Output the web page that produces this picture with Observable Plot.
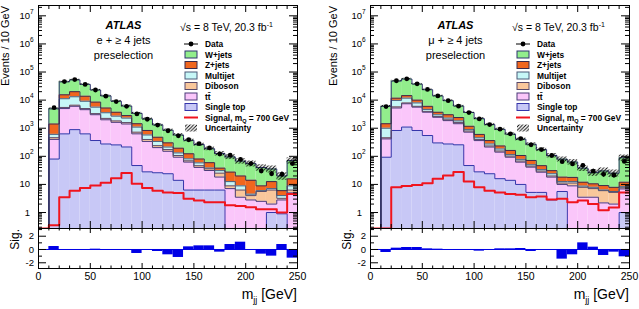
<!DOCTYPE html>
<html><head><meta charset="utf-8">
<script src="https://cdn.jsdelivr.net/npm/d3@7"></script>
<script src="https://cdn.jsdelivr.net/npm/@observablehq/plot@0.6"></script>
<style>
html,body{margin:0;padding:0;background:#fff;}
#wrap{position:relative;width:639px;height:309px;overflow:hidden;background:#fff;}
#wrap svg{position:absolute;}
</style></head><body>
<svg width="0" height="0" style="position:absolute">
<defs><pattern id="hatch" patternUnits="userSpaceOnUse" width="3.5" height="3.5"><path d="M-1,1 l2,-2 M0,3.5 l3.5,-3.5 M2.5,4.5 l2,-2" stroke="#000" stroke-width="0.9"/></pattern></defs></svg>
<div id="wrap"></div>
<script>
// ---------------- data ----------------
const binLow = [0,10,20,30,40,50,60,70,80,90,100,110,120,130,140,150,160,170,180,190,200,210,220,230,240];
const binW = 10;
const xTicks = [0,50,100,150,200,250];
const yTickExps = [0,1,2,3,4,5,6,7];
const sigTicks = [-2,0,2];
const layerNames = ["Single top","tt\u0304","Diboson","Multijet","Z+jets","W+jets"];
const layerFill = ["#c8c8f6","#fac6fa","#f9c79b","#c6f7f7","#f0661e","#92ee8c"];
const layerStroke = ["#3434aa","#4a3a78","#5a4a6a","#4a5a78","#3a2a4a","#2e3470"];

// electron channel
const eSingleTop = [0,80,630,890,630,365,275,255,215,47,28,26,24,14,6.3,6.3,6.3,6.3,0,0,0,0,1.0,0.9,0];
const eTtbar     = [0,320,4380,5140,3940,2660,1720,1365,1200,584,311,178,127,79,56,34,25,12,7.1,3.5,2.8,2.5,1.0,1.9,5.0];
const eDiboson   = [0,60,480,580,440,290,245,200,172,93,59,36,23,14,7,6.1,4.6,6.9,1.8,2.8,1.2,3.1,4.3,0.4,1.3];
const eMultijet  = [0,145,5720,6570,4110,2310,1310,870,706,372,177,99,40,25,12,12,2.5,5.8,3.7,2.6,0.5,0.4,0.8,0.8,2.6];
const eZjets     = [0,810,4270,6770,4680,2890,1700,1020,527,349,257,140,88,63,42,22,21,7.1,14.9,11.1,9.6,2.9,5.5,2.0,6.9];
const eWjets     = [0,3500,29200,32500,22500,14400,8880,5400,3350,1940,1306,839,549,380,249,182,127,88,68,47.6,40.9,30.9,22.9,14,55];
const eData      = [null,5400,45700,53700,36300,22900,13800,8910,6030,3240,2090,1290,813,537,389,282,200,120,110,78,55,30,24,23,55];
const eSignal    = [0,0.35,3.5,6.0,7.4,9.1,11.5,16.6,25.7,10.5,7.4,6.0,5.2,5.0,3.1,2.7,2.3,2.3,1.8,1.7,1.55,1.3,1.3,1.0,4.6];
const eSig       = [0,0.45,0,0,0,0.05,-0.15,-0.15,-0.15,-0.6,-0.1,-0.3,-0.8,-1.2,0.4,0.55,0.55,-0.4,0.75,1.1,0,-0.7,-1.0,0.75,-1.3];
const eUnc       = [0,0.08,0.06,0.06,0.06,0.06,0.07,0.07,0.08,0.08,0.09,0.10,0.10,0.11,0.12,0.13,0.15,0.18,0.20,0.22,0.24,0.26,0.28,0.30,0.25];

// muon channel
const muSingleTop = [0,93,830,1100,830,550,300,275,257,47,28,24,16,14,10,5.2,5.2,2.8,5.6,0,0,0,0,0,1.0];
const muTtbar     = [0,324,4420,6320,4790,3165,2150,1590,1190,677,335,190,125,79,52,36,22,15.4,4.4,8.9,3.5,3.5,2.2,2.0,5.9];
const muDiboson   = [0,40,506,530,403,266,175,133,140,70,35,20,14,9,6,3.7,2.7,1.8,1.2,2.3,4.4,3.6,3.8,3.2,0.7];
const muMultijet  = [0,543,4020,3810,1920,696,390,296,235,97,59,41,27,13,10,5.3,3.7,4.0,1.4,1.4,0.8,0.8,0.3,0.4,0.7];
const muZjets     = [0,445,1980,2700,2060,1350,695,729,579,284,146,88,52,47,29,21,12.9,6.9,5.6,5.2,3.3,2.6,2.8,2.3,3.7];
const muWjets     = [0,4580,36100,41800,27150,17400,10400,6530,3770,2460,1585,986,678,455,300,198,127,76,61,45,26,15.8,21,17.2,77];
const muData      = [null,5890,49000,57500,38000,24000,14100,9550,6100,3590,2140,1350,922,631,427,257,174,107,64.6,53.7,47.9,29.5,22.9,21.4,66];
const muSignal    = [0,0,7.9,8.7,9.5,11,15.8,20.9,27.5,12.6,7.9,6.0,5.2,4.6,4.3,3.5,3.7,2.9,3.1,2.3,2.7,2.0,1.2,1.5,5.2];
const muSig       = [0,-0.45,0.2,0.3,0.3,0.1,0.05,0,-0.1,-0.15,-0.25,0,0.1,0.1,0.15,-0.3,0,0,-1.45,-0.8,1.0,0.35,-0.9,-0.4,-1.1];
const muUnc       = [0,0.08,0.06,0.06,0.06,0.06,0.07,0.07,0.08,0.08,0.09,0.10,0.10,0.11,0.12,0.13,0.15,0.18,0.20,0.22,0.24,0.26,0.28,0.30,0.25];

// ---------------- layout ----------------
const FONT = '"Liberation Sans", Arial, Helvetica, sans-serif';
const yMin = 0.27, yMax = 2.33e7;
const sigMin = -2.86, sigMax = 3.16;
const mainTop = 5, mainBottom = 228, sigBottom = 268, svgH = 309;

const panels = [
  {left: 0, width: 320, mL: 38, mR: 23, chan: "e + \u2265 4 jets", evX: 9,
   comps: [eSingleTop, eTtbar, eDiboson, eMultijet, eZjets, eWjets],
   data: eData, signal: eSignal, sig: eSig, unc: eUnc},
  {left: 320, width: 319, mL: 50, mR: 10, chan: "\u03bc + \u2265 4 jets", evX: 337,
   comps: [muSingleTop, muTtbar, muDiboson, muMultijet, muZjets, muWjets],
   data: muData, signal: muSignal, sig: muSig, unc: muUnc}
];

const wrap = document.getElementById("wrap");

function place(svg, left, top) {
  svg.style.position = "absolute";
  svg.style.left = left + "px";
  svg.style.top = top + "px";
  wrap.appendChild(svg);
}

const majorY = yTickExps.map(k => 10 ** k);
const minorY = [];
for (let k = -1; k <= 7; k++) for (let m = 2; m <= 9; m++) { const v = m * 10 ** k; if (v > yMin && v < yMax) minorY.push(v); }
const minorX = d3.range(0, 251, 10).filter(v => !xTicks.includes(v));
const sigMinor = [-1, 1, 3];

function tickMarks(plotW, plotH, xMaj, xMin, yMaj, yMin_, lxMaj, lxMin, lyMaj, lyMin) {
  return [
    Plot.ruleX(xMaj, {x: d => d, insetTop: plotH - lxMaj, stroke: "black"}),
    Plot.ruleX(xMin, {x: d => d, insetTop: plotH - lxMin, stroke: "black"}),
    Plot.ruleX(xMaj, {x: d => d, insetBottom: plotH - lxMaj, stroke: "black"}),
    Plot.ruleX(xMin, {x: d => d, insetBottom: plotH - lxMin, stroke: "black"}),
    Plot.ruleY(yMaj, {y: d => d, insetRight: plotW - lyMaj, stroke: "black"}),
    Plot.ruleY(yMin_, {y: d => d, insetRight: plotW - lyMin, stroke: "black"}),
    Plot.ruleY(yMaj, {y: d => d, insetLeft: plotW - lyMaj, stroke: "black"}),
    Plot.ruleY(yMin_, {y: d => d, insetLeft: plotW - lyMin, stroke: "black"})
  ];
}

panels.forEach(p => {
  const plotW = p.width - p.mL - p.mR;
  const mainH = mainBottom - mainTop;
  const cum = binLow.map(() => 0);
  const rectMarks = [], lineMarks = [];
  p.comps.forEach((vals, k) => {
    const rects = [], pts = [];
    binLow.forEach((x, i) => {
      const lo = cum[i], hi = lo + vals[i];
      if (vals[i] > 0) rects.push({x1: x, x2: x + binW, y1: Math.max(lo, yMin), y2: Math.max(hi, yMin)});
      cum[i] = hi;
      pts.push({x, y: Math.max(hi, yMin)});
    });
    pts.push({x: 250, y: pts[pts.length - 1].y});
    rectMarks.push(Plot.rect(rects, {x1: "x1", x2: "x2", y1: "y1", y2: "y2", fill: layerFill[k], clip: true}));
    lineMarks.push(Plot.line(pts, {x: "x", y: "y", curve: "step-after", stroke: layerStroke[k], strokeWidth: 1, clip: true}));
  });
  const total = cum;
  const uncRows = binLow.map((x, i) => ({x1: x, x2: x + binW, y1: Math.max(total[i] * (1 - p.unc[i]), yMin), y2: Math.max(total[i] * (1 + p.unc[i]), yMin)})).filter(d => d.y2 > d.y1);
  const sigPts = binLow.map((x, i) => ({x, y: Math.max(p.signal[i], yMin)}));
  sigPts.push({x: 250, y: sigPts[sigPts.length - 1].y});
  const dataRows = binLow.map((x, i) => ({x: x + binW / 2, v: p.data[i]})).filter(d => d.v != null);
  const yLab = yTickExps.map(k => ({v: 10 ** k, base: k === 0 ? "1" : "10", exp: k >= 2 ? String(k) : ""}));

  const main = Plot.plot({
    width: p.width, height: mainBottom, marginTop: mainTop, marginBottom: 0, marginLeft: p.mL, marginRight: p.mR,
    x: {domain: [0, 250], axis: null},
    y: {type: "log", domain: [yMin, yMax], axis: null},
    style: {fontFamily: FONT, fontSize: "9.5px", background: "none"},
    marks: [
      ...rectMarks,
      ...lineMarks,
      Plot.rect(uncRows, {x1: "x1", x2: "x2", y1: "y1", y2: "y2", fill: "url(#hatch)", clip: true}),
      Plot.line(sigPts, {x: "x", y: "y", curve: "step-after", stroke: "#f0141e", strokeWidth: 2, clip: true}),
      Plot.ruleX(dataRows, {x: "x", y1: d => Math.max(d.v - Math.sqrt(d.v), yMin), y2: d => d.v + Math.sqrt(d.v), stroke: "black", clip: true}),
      Plot.dot(dataRows, {x: "x", y: "v", r: 2.4, fill: "black", stroke: "none"}),
      ...tickMarks(plotW, mainH, xTicks, minorX, majorY, minorY, 7, 4, 8, 4),
      Plot.frame({stroke: "black", strokeWidth: 1}),
      Plot.text(yLab, {y: "v", text: "base", frameAnchor: "left", textAnchor: "end", dx: -8.5, fontSize: 9.5}),
      Plot.text(yLab.filter(d => d.exp), {y: "v", text: "exp", frameAnchor: "left", textAnchor: "start", dx: -8.4, dy: -4, fontSize: 6.5})
    ]
  });
  place(main, p.left, 0);

  const sigH = sigBottom - mainBottom;
  const sigRows = binLow.map((x, i) => ({x1: x, x2: x + binW, s: p.sig[i]}));
  const sigPlot = Plot.plot({
    width: p.width, height: svgH - mainBottom, marginTop: 0, marginBottom: svgH - sigBottom, marginLeft: p.mL, marginRight: p.mR,
    x: {domain: [0, 250], ticks: xTicks, tickSize: 0, tickPadding: 4, label: null},
    y: {domain: [sigMin, sigMax], axis: null},
    style: {fontFamily: FONT, fontSize: "10.5px", background: "none"},
    marks: [
      Plot.rect(sigRows, {x1: "x1", x2: "x2", y1: () => 0, y2: "s", fill: "#0000e6", clip: true}),
      Plot.ruleY([0], {stroke: "#0000e6", strokeWidth: 1}),
      ...tickMarks(plotW, sigH, xTicks, minorX, sigTicks, sigMinor, 5, 2.5, 8, 4),
      Plot.frame({stroke: "black", strokeWidth: 1}),
      Plot.text(sigTicks, {y: d => d, text: d => String(d), frameAnchor: "left", textAnchor: "end", dx: -4.5, fontSize: 9.5})
    ]
  });
  place(sigPlot, p.left, mainBottom);
});

// ---------------- annotations ----------------
const ov = d3.select(wrap).append("svg").attr("width", 639).attr("height", 309)
  .style("left", "0px").style("top", "0px").style("font-family", FONT).style("pointer-events", "none");

panels.forEach(p => {
  const x0 = p.left + p.mL;
  const x1 = p.left + p.width - p.mR;
  ov.append("text").attr("transform", `translate(${p.evX},6) rotate(-90)`).attr("text-anchor", "end").attr("font-size", 11).text("Events / 10 GeV");
  ov.append("text").attr("transform", `translate(${x0 - 19},229) rotate(-90)`).attr("text-anchor", "end").attr("font-size", 12).text("Sig.");
  const t = ov.append("text").attr("x", x1).attr("y", 299).attr("text-anchor", "end").attr("font-size", 14);
  t.append("tspan").text("m");
  t.append("tspan").attr("font-size", 9).attr("dy", 4).text("jj");
  t.append("tspan").attr("dy", -4).text(" [GeV]");

  ov.append("text").attr("x", x0 + 85.5).attr("y", 29).attr("text-anchor", "middle").attr("font-weight", "bold").attr("font-style", "italic").attr("font-size", 11).text("ATLAS");
  ov.append("text").attr("x", x0 + 85.5).attr("y", 43.5).attr("text-anchor", "middle").attr("font-size", 11).text(p.chan);
  ov.append("text").attr("x", x0 + 85.5).attr("y", 58.5).attr("text-anchor", "middle").attr("font-size", 11).text("preselection");
  const s = ov.append("text").attr("x", x0 + 142).attr("y", 31).attr("font-size", 10.5);
  s.append("tspan").text("\u221As = 8 TeV, 20.3 fb");
  s.append("tspan").attr("font-size", 7).attr("dy", -4).text("-1");

  // legend
  const lx = x0 + 147, tx = x0 + 167, rowY = [44, 54.5, 65, 75.5, 86, 96.5, 107, 117.5, 128];
  const g = ov.append("g").attr("font-size", 8.4).attr("font-weight", "bold");
  g.append("line").attr("x1", lx - 1).attr("x2", lx + 13).attr("y1", rowY[0]).attr("y2", rowY[0]).attr("stroke", "black");
  g.append("circle").attr("cx", lx + 6).attr("cy", rowY[0]).attr("r", 2.4).attr("fill", "black");
  g.append("text").attr("x", tx).attr("y", rowY[0] + 3).text("Data");
  [5, 4, 3, 2, 1, 0].forEach((k, j) => {
    const y = rowY[j + 1];
    g.append("rect").attr("x", lx).attr("y", y - 3.5).attr("width", 12).attr("height", 7).attr("fill", layerFill[k]).attr("stroke", layerStroke[k]).attr("stroke-width", 1);
    g.append("text").attr("x", tx).attr("y", y + 3).text(layerNames[k]);
  });
  g.append("line").attr("x1", lx - 1).attr("x2", lx + 13).attr("y1", rowY[7]).attr("y2", rowY[7]).attr("stroke", "#f0141e").attr("stroke-width", 2);
  const st = g.append("text").attr("x", tx).attr("y", rowY[7] + 3);
  st.append("tspan").text("Signal, m");
  st.append("tspan").attr("font-size", 5.5).attr("dy", 2).text("Q");
  st.append("tspan").attr("dy", -2).text(" = 700 GeV");
  g.append("rect").attr("x", lx).attr("y", rowY[8] - 3.5).attr("width", 12).attr("height", 7).attr("fill", "url(#hatch)");
  g.append("text").attr("x", tx).attr("y", rowY[8] + 3).text("Uncertainty");
});
</script>
</body></html>
